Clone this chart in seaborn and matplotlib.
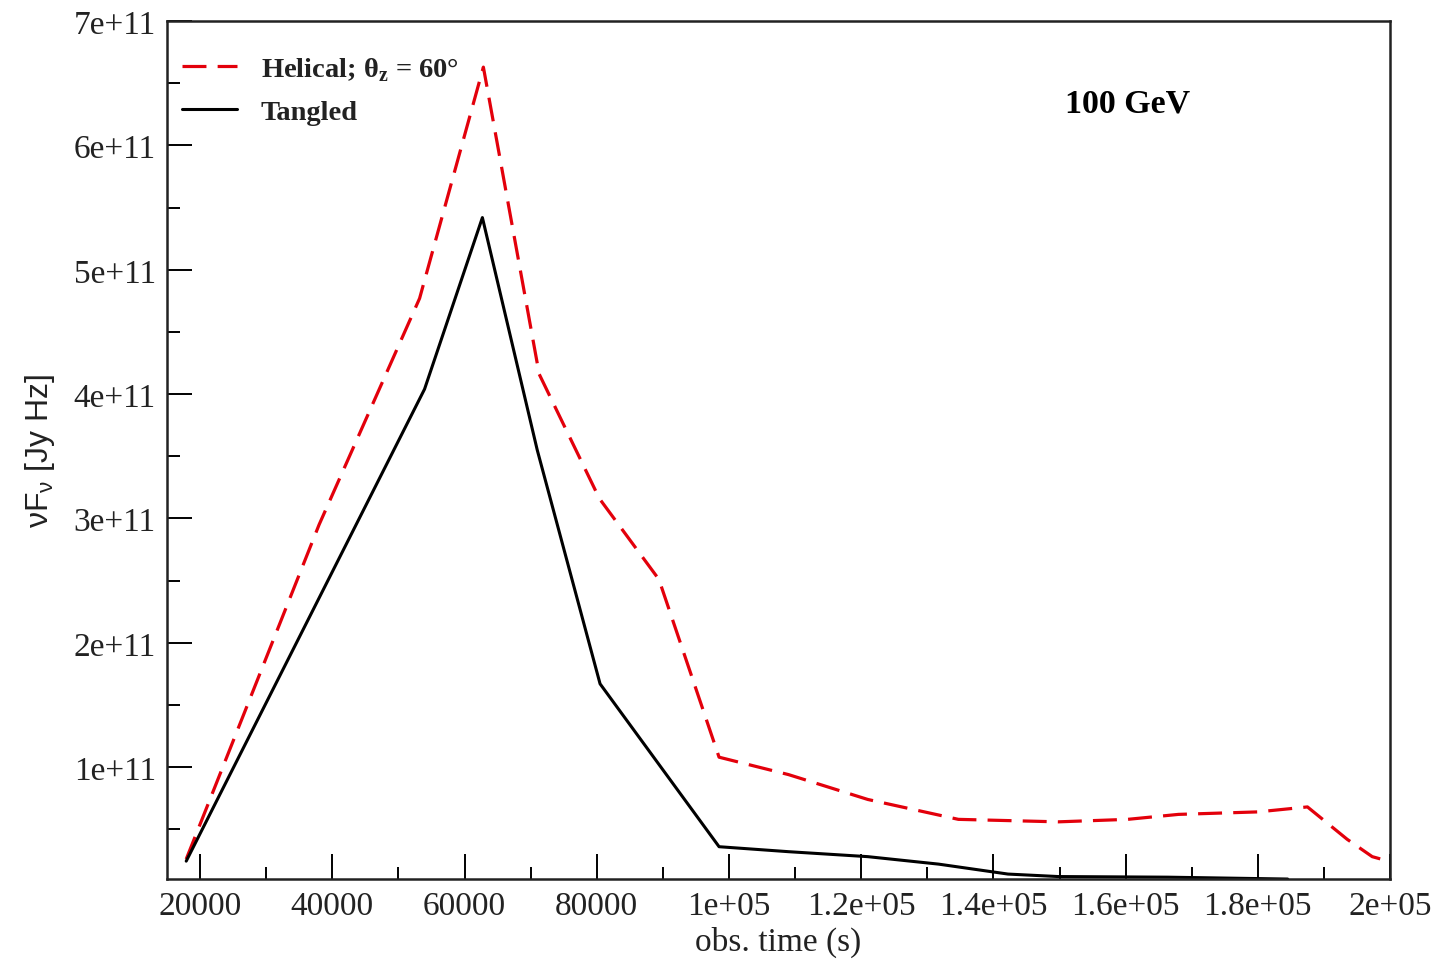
import matplotlib
matplotlib.use("Agg")
import matplotlib.pyplot as plt
from matplotlib.ticker import MultipleLocator
import pandas as pd
import seaborn as sns

# Light curves at 100 GeV: observed time (s) vs. nu F_nu (Jy Hz)
helical_t = [17900, 38000, 53200, 62850, 71300, 80400, 89400, 98500, 109000,
             121000, 134700, 149800, 160300, 168000, 180000, 187500, 193500,
             197300, 200000]
helical_f = [0.26e11, 2.95e11, 4.77e11, 6.63e11, 4.16e11, 3.16e11, 2.51e11,
             1.08e11, 0.94e11, 0.74e11, 0.58e11, 0.56e11, 0.58e11, 0.62e11,
             0.64e11, 0.68e11, 0.42e11, 0.28e11, 0.24e11]

tangled_t = [17900, 53950, 62700, 71000, 80500, 98500, 109000, 121000, 131700,
             142200, 149800, 166400, 184500]
tangled_f = [0.244e11, 4.04e11, 5.42e11, 3.55e11, 1.67e11, 0.36e11, 0.32e11,
             0.28e11, 0.22e11, 0.14e11, 0.12e11, 0.115e11, 0.10e11]

helical_label = "Helical; θ$_\\mathregular{z}$ = 60°"
tangled_label = "Tangled"
energy_label = "100 GeV"

x_ticks = [20000, 40000, 60000, 80000, 100000, 120000, 140000, 160000, 180000, 200000]
x_tick_labels = ["20000", "40000", "60000", "80000", "1e+05", "1.2e+05",
                 "1.4e+05", "1.6e+05", "1.8e+05", "2e+05"]
y_ticks = [1e11, 2e11, 3e11, 4e11, 5e11, 6e11, 7e11]
y_tick_labels = ["1e+11", "2e+11", "3e+11", "4e+11", "5e+11", "6e+11", "7e+11"]

sns.set_theme(style="white")
plt.rcParams["font.family"] = ["Liberation Serif", "DejaVu Serif"]
plt.rcParams["mathtext.fontset"] = "custom"
plt.rcParams["mathtext.rm"] = "Liberation Serif"

helical = pd.DataFrame({"t": helical_t, "f": helical_f})
tangled = pd.DataFrame({"t": tangled_t, "f": tangled_f})

fig = plt.figure(figsize=(14.45, 9.62), dpi=100)
ax = fig.add_axes([0.1156, 0.0852, 0.962 - 0.1156, 0.977 - 0.0852])

sns.lineplot(data=helical, x="t", y="f", ax=ax, sort=False, estimator=None,
             color="#e3000b", linewidth=2.3, label=helical_label)
ax.lines[-1].set_dashes((7.5, 3.5))
sns.lineplot(data=tangled, x="t", y="f", ax=ax, sort=False, estimator=None,
             color="black", linewidth=2.2, label=tangled_label)

ax.set_xlim(15000, 200000)
ax.set_ylim(1e10, 7e11)

ax.set_xticks(x_ticks)
ax.set_xticklabels(x_tick_labels)
ax.set_yticks(y_ticks)
ax.set_yticklabels(y_tick_labels)
ax.xaxis.set_minor_locator(MultipleLocator(10000))
ax.yaxis.set_minor_locator(MultipleLocator(0.5e11))

ax.tick_params(axis="both", which="major", direction="in", length=18, width=1.4,
               labelsize=24, color="black", labelcolor="#222222", pad=8,
               top=False, right=False, bottom=True, left=True)
ax.tick_params(axis="both", which="minor", direction="in", length=9, width=1.4,
               color="black", top=False, right=False, bottom=True, left=True)

for s in ax.spines.values():
    s.set_visible(True)
    s.set_color("#222222")
    s.set_linewidth(1.8)

ax.set_xlabel("obs. time (s)", fontsize=24, color="#222222", labelpad=4)
ax.set_ylabel("νF$_\\mathregular{ν}$ [Jy Hz]", fontsize=23, color="#222222",
              labelpad=12)
ax.yaxis.label.set_fontfamily(["Liberation Sans", "DejaVu Sans"])

ax.text(0.785, 0.905, energy_label, transform=ax.transAxes, fontsize=24.5,
        fontweight="bold", ha="center", va="center", color="black")

leg = ax.legend(loc="upper left", frameon=False,
                prop={"weight": "bold", "size": 20.5},
                handlelength=1.9, handletextpad=0.85, labelspacing=0.58,
                borderaxespad=0.4, bbox_to_anchor=(-0.006, 0.987))
for txt in leg.get_texts():
    txt.set_color("#222222")

fig.savefig("out.png", dpi=100, facecolor="white")
